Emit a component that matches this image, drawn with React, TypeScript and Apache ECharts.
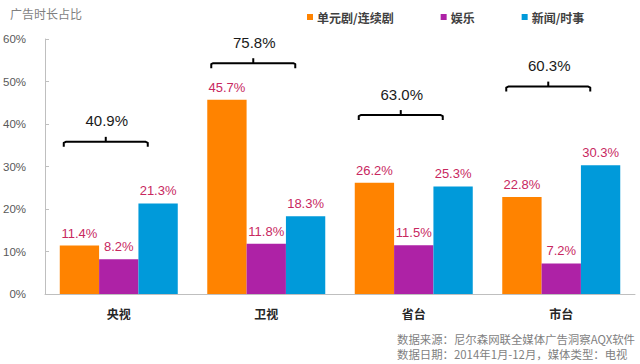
import React, { useEffect, useRef } from "react";
import * as echarts from "echarts";

const categories = ["央视", "卫视", "省台", "市台"];
const seriesNames = ["单元剧/连续剧", "娱乐", "新闻/时事"];
const dramaValues = [11.4, 45.7, 26.2, 22.8];
const entertainmentValues = [8.2, 11.8, 11.5, 7.2];
const newsValues = [21.3, 18.3, 25.3, 30.3];
const totals = [40.9, 75.8, 63.0, 60.3];
const yTicks = [0, 10, 20, 30, 40, 50, 60];

// layout: bracket heights in axis units
const bracketLevels = [35.8, 54.3, 42.1, 48.8];

const colors = ["#FF8300", "#AE22A6", "#009ADA"];
const labelColor = "#C8285F";
const CJK = "'Noto Sans CJK SC', 'Noto Sans', sans-serif";
const NUM = "'Liberation Sans', Arial, sans-serif";

export default function App() {
  const ref = useRef<HTMLDivElement>(null);
  useEffect(() => {
    if (!ref.current) return;
    const chart = echarts.init(ref.current, undefined, { renderer: "svg" });
    const barLabel = {
      show: true,
      position: "top",
      distance: 6,
      color: labelColor,
      fontSize: 13,
      fontFamily: NUM,
      formatter: (p: any) => Number(p.value).toFixed(1) + "%",
    };
    const valueArrays = [dramaValues, entertainmentValues, newsValues];
    const bars = seriesNames.map((name, i) => ({
      name,
      type: "bar",
      data: valueArrays[i],
      barGap: "0%",
      barCategoryGap: "20%",
      itemStyle: { color: colors[i] },
      label: barLabel,
    }));
    const bracketData = categories.map((_, i) => [i, totals[i], bracketLevels[i]]);
    const option: any = {
      animation: false,
      backgroundColor: "#ffffff",
      grid: { left: 44, right: 5, top: 39, bottom: 70, containLabel: false },
      legend: {
        data: seriesNames,
        left: 302,
        top: 6,
        icon: "rect",
        itemWidth: 6,
        itemHeight: 6,
        itemGap: 47,
        textStyle: { fontSize: 12, fontWeight: "bold", color: "#404040", fontFamily: CJK, padding: [0, 0, 0, -1] },
      },
      xAxis: {
        type: "category",
        data: categories,
        axisLine: { show: true, lineStyle: { color: "#BFBFBF", width: 1 } },
        axisTick: { show: false },
        axisLabel: { fontSize: 12, fontWeight: "bold", color: "#262626", fontFamily: CJK, margin: 13 },
      },
      yAxis: {
        type: "value",
        min: yTicks[0],
        max: yTicks[yTicks.length - 1],
        interval: 10,
        splitLine: { show: false },
        axisLine: { show: true, lineStyle: { color: "#BFBFBF", width: 1 } },
        axisTick: { show: true, inside: true, length: 4, lineStyle: { color: "#BFBFBF" } },
        axisLabel: { formatter: "{value}%", fontSize: 11.5, color: "#595959", fontFamily: NUM, margin: 19 },
      },
      series: [
        ...bars,
        {
          type: "custom",
          name: "total",
          data: bracketData,
          silent: true,
          z: 10,
          renderItem: (params: any, api: any) => {
            const c = api.coord([api.value(0), api.value(2)]);
            const cx = c[0] - 13;
            const y = c[1];
            const half = 42;
            return {
              type: "group",
              children: [
                {
                  type: "polyline",
                  shape: {
                    points: [
                      [cx - half, y + 5],
                      [cx - half, y + 1],
                      [cx - half + 2, y],
                      [cx + half - 2, y],
                      [cx + half, y + 1],
                      [cx + half, y + 5],
                    ],
                  },
                  style: { stroke: "#000", lineWidth: 2, fill: null, lineJoin: "round" },
                },
                {
                  type: "line",
                  shape: { x1: cx, y1: y, x2: cx, y2: y - 5 },
                  style: { stroke: "#000", lineWidth: 2 },
                },
                {
                  type: "text",
                  style: {
                    text: Number(api.value(1)).toFixed(1) + "%",
                    x: cx + 1,
                    y: y - 21,
                    align: "center",
                    verticalAlign: "middle",
                    fontSize: 15,
                    fontFamily: NUM,
                    fill: "#1a1a1a",
                  },
                },
              ],
            };
          },
        },
      ],
      graphic: [
        {
          type: "text",
          left: 10,
          top: 7,
          style: { text: "广告时长占比", fontSize: 12, fill: "#7F7F7F", fontFamily: CJK },
        },
        {
          type: "text",
          left: 397,
          top: 333,
          style: { text: "数据来源：尼尔森网联全媒体广告洞察AQX软件", fontSize: 11.4, fill: "#7F7F7F", fontFamily: CJK },
        },
        {
          type: "text",
          left: 397,
          top: 348,
          style: { text: "数据日期：2014年1月-12月，媒体类型：电视", fontSize: 11.4, fill: "#7F7F7F", fontFamily: CJK },
        },
      ],
    };
    chart.setOption(option);
    return () => chart.dispose();
  }, []);
  return <div ref={ref} style={{ width: 640, height: 364, position: "absolute", left: 0, top: 0 }} />;
}
